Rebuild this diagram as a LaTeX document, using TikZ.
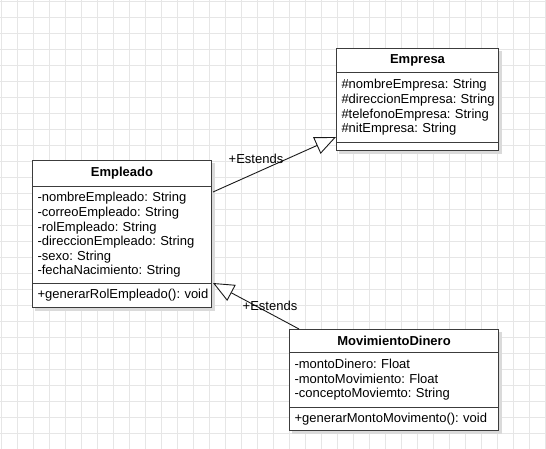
\documentclass[tikz,border=0pt]{standalone}
\usepackage{fontspec}
\setmainfont{Liberation Sans}
\frenchspacing
\usetikzlibrary{arrows.meta,calc,backgrounds}
\definecolor{gridc}{HTML}{E6E6E6}
\definecolor{boxc}{HTML}{3C3C3C}
\definecolor{shadc}{HTML}{DADADA}
\newcommand\rowtxt[1]{\mbox{\hspace*{2pt}#1}}
\tikzset{
  x=1pt, y=-1pt,
  part/.style={draw=boxc, line width=1pt, fill=white, anchor=north west, inner ysep=0pt, inner xsep=3pt,
    font=\frenchspacing\fontsize{13}{14.6}\selectfont},
  hdr/.style={part, font=\bfseries\fontsize{13}{14.6}\selectfont, align=center},
  body/.style={part, align=left},
  ext/.style={draw=black!90, line width=0.9pt, -{Triangle[open, length=21pt, width=18pt, fill=white]}},
  lbl/.style={font=\fontsize{13}{14.6}\selectfont, inner sep=0pt},
}
\begin{document}
\begin{tikzpicture}
\useasboundingbox (0,0) rectangle (546,449);
% Empresa
\node[hdr, minimum width=162, minimum height=24, text width=156] (empH) at (336,48) {Empresa};
\node[body, minimum width=162, minimum height=70, text width=156] (empA) at (336,72)
  {\rowtxt{\#nombreEmpresa: String}\\\rowtxt{\#direccionEmpresa: String}\\\rowtxt{\#telefonoEmpresa: String}\\\rowtxt{\#nitEmpresa: String}};
\node[body, minimum width=162, minimum height=8, text width=156] (empM) at (336,142) {};
% Empleado
\node[hdr, minimum width=179, minimum height=26, text width=173] (emlH) at (32,160) {Empleado};
\node[body, minimum width=179, minimum height=97, text width=173] (emlA) at (32,186)
  {\rowtxt{-nombreEmpleado: String}\\\rowtxt{-correoEmpleado: String}\\\rowtxt{-rolEmpleado: String}\\\rowtxt{-direccionEmpleado: String}\\\rowtxt{-sexo: String}\\\rowtxt{-fechaNacimiento: String}};
\node[body, minimum width=179, minimum height=24, text width=173] (emlM) at (32,283) {\rowtxt{+generarRolEmpleado(): void}};
% MovimientoDinero
\node[hdr, minimum width=209, minimum height=23, text width=203] (movH) at (289,329) {MovimientoDinero};
\node[body, minimum width=209, minimum height=55, text width=203] (movA) at (289,352)
  {\rowtxt{-montoDinero: Float}\\\rowtxt{-montoMovimiento: Float}\\\rowtxt{-conceptoMoviemto: String}};
\node[body, minimum width=209, minimum height=23, text width=203] (movM) at (289,407) {\rowtxt{+generarMontoMovimento(): void}};
% connectors
\draw[ext] ($(emlA.north east)+(1,6)$) -- ($(empA.south west)+(0,-6)$);
\node[lbl] (l1) at (256,159) {+Estends};
\draw[ext] ($(movH.north west)+(10,0)$) -- ($(emlA.south east)+(1,-1)$);
\node[lbl] (l2) at (270,306) {+Estends};
\begin{scope}[on background layer]
  \foreach \i in {0,...,34} {
    \draw[gridc, line width=0.8pt] (1+16*\i,0) -- (1+16*\i,449);
  }
  \foreach \j in {0,...,28} {
    \draw[gridc, line width=0.8pt] (0,1+16*\j) -- (546,1+16*\j);
  }
  \fill[shadc] ($(empH.north west)+(3,3)$) rectangle ($(empM.south east)+(3,3)$);
  \fill[shadc] ($(emlH.north west)+(3,3)$) rectangle ($(emlM.south east)+(3,3)$);
  \fill[shadc] ($(movH.north west)+(3,3)$) rectangle ($(movM.south east)+(3,3)$);
\end{scope}
\end{tikzpicture}
\end{document}
